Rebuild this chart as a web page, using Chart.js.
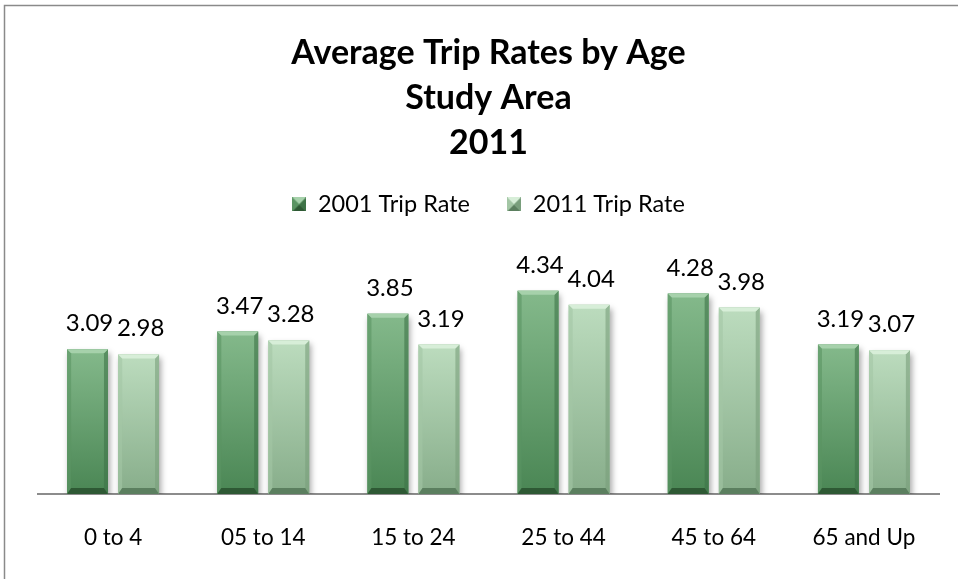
<!DOCTYPE html>
<html>
<head>
<meta charset="utf-8">
<script src="https://cdn.jsdelivr.net/npm/chart.js@4/dist/chart.umd.min.js"></script>
<style>
  html, body { margin: 0; padding: 0; background: #ffffff; }
  #wrap { position: relative; width: 958px; height: 579px; }
  canvas { display: block; }
</style>
</head>
<body>
<div id="wrap"><canvas id="c" width="958" height="579"></canvas></div>
<script>
// ---- data ----
const titleLines = ['Average Trip Rates by Age', 'Study Area', '2011'];
const categories = ['0 to 4', '05 to 14', '15 to 24', '25 to 44', '45 to 64', '65 and Up'];
const seriesNames = ['2001 Trip Rate', '2011 Trip Rate'];
const rate2001 = [3.09, 3.47, 3.85, 4.34, 4.28, 3.19];
const rate2011 = [2.98, 3.28, 3.19, 4.04, 3.98, 3.07];
const yMax = 5.72;

// ---- styles ----
const palettes = [
  { main: '#5f9a67', gTop: '#84b98b', gBot: '#4a8654', top: '#a6d1ab', bottom: '#2e5934', left: '#5a9462', right: '#3e7347' },
  { main: '#9fc4a2', gTop: '#bcdcbe', gBot: '#87ad8a', top: '#d7eed8', bottom: '#5b7f5f', left: '#a3c6a5', right: '#799e7c' }
];
const FONT = 'Lato, "Open Sans", "DejaVu Sans", sans-serif';

function bevelIcon(p) {
  const c = document.createElement('canvas');
  c.width = 14; c.height = 14;
  const g = c.getContext('2d');
  const s = 14, m = 7;
  g.fillStyle = p.main; g.fillRect(0, 0, s, s);
  g.fillStyle = p.top; g.beginPath(); g.moveTo(0,0); g.lineTo(s,0); g.lineTo(m,m); g.closePath(); g.fill();
  g.fillStyle = p.bottom; g.beginPath(); g.moveTo(0,s); g.lineTo(s,s); g.lineTo(m,m); g.closePath(); g.fill();
  g.fillStyle = p.left; g.beginPath(); g.moveTo(0,0); g.lineTo(0,s); g.lineTo(m,m); g.closePath(); g.fill();
  g.fillStyle = p.right; g.beginPath(); g.moveTo(s,0); g.lineTo(s,s); g.lineTo(m,m); g.closePath(); g.fill();
  return c;
}
const icons = palettes.map(bevelIcon);

const framePlugin = {
  id: 'frame',
  beforeDraw(chart) {
    const ctx = chart.ctx;
    ctx.save();
    ctx.strokeStyle = '#8a8a8a';
    ctx.lineWidth = 1.5;
    ctx.beginPath();
    ctx.moveTo(4.5, 579);
    ctx.lineTo(4.5, 5.5);
    ctx.lineTo(958, 5.5);
    ctx.stroke();
    ctx.restore();
  }
};

const shadowPlugin = {
  id: 'barShadow',
  beforeDatasetsDraw(chart) {
    const ctx = chart.ctx;
    ctx.save();
    ctx.shadowColor = 'rgba(0,0,0,0.35)';
    ctx.shadowBlur = 6;
    ctx.shadowOffsetX = 2;
    ctx.shadowOffsetY = 4;
  },
  afterDatasetsDraw(chart) {
    chart.ctx.restore();
  }
};

const bevelPlugin = {
  id: 'bevel',
  afterDatasetsDraw(chart) {
    const ctx = chart.ctx;
    chart.data.datasets.forEach((ds, di) => {
      const meta = chart.getDatasetMeta(di);
      const p = palettes[di];
      meta.data.forEach((el, i) => {
        const { x, y, base, width } = el.getProps(['x', 'y', 'base', 'width'], true);
        const x0 = x - width / 2, x1 = x + width / 2;
        const top = Math.min(y, base), bot = Math.max(y, base);
        const bt = 4, bb = 6, bs = 4;
        ctx.save();
        const grad = ctx.createLinearGradient(0, top, 0, bot);
        grad.addColorStop(0, p.gTop);
        grad.addColorStop(1, p.gBot);
        ctx.fillStyle = grad;
        ctx.fillRect(x0, top, width, bot - top);
        ctx.fillStyle = p.left;
        ctx.globalAlpha = 0.6;
        ctx.beginPath(); ctx.moveTo(x0, top); ctx.lineTo(x0 + bs, top + bt); ctx.lineTo(x0 + bs, bot - bb); ctx.lineTo(x0, bot); ctx.closePath(); ctx.fill();
        ctx.fillStyle = p.right;
        ctx.beginPath(); ctx.moveTo(x1, top); ctx.lineTo(x1 - bs, top + bt); ctx.lineTo(x1 - bs, bot - bb); ctx.lineTo(x1, bot); ctx.closePath(); ctx.fill();
        ctx.globalAlpha = 1;
        ctx.fillStyle = p.top;
        ctx.beginPath(); ctx.moveTo(x0, top); ctx.lineTo(x1, top); ctx.lineTo(x1 - bs, top + bt); ctx.lineTo(x0 + bs, top + bt); ctx.closePath(); ctx.fill();
        ctx.fillStyle = p.bottom;
        ctx.beginPath(); ctx.moveTo(x0, bot); ctx.lineTo(x1, bot); ctx.lineTo(x1 - bs, bot - bb); ctx.lineTo(x0 + bs, bot - bb); ctx.closePath(); ctx.fill();
        ctx.restore();
      });
    });
  }
};

const labelPlugin = {
  id: 'valueLabels',
  afterDatasetsDraw(chart) {
    const ctx = chart.ctx;
    ctx.save();
    ctx.font = '24px ' + FONT;
    ctx.fillStyle = '#000000';
    ctx.textAlign = 'center';
    ctx.textBaseline = 'alphabetic';
    chart.data.datasets.forEach((ds, di) => {
      const meta = chart.getDatasetMeta(di);
      meta.data.forEach((el, i) => {
        ctx.fillText(ds.data[i].toFixed(2), el.x + 2, el.y - 18);
      });
    });
    ctx.restore();
  }
};

new Chart(document.getElementById('c'), {
  type: 'bar',
  data: {
    labels: categories,
    datasets: [
      { label: seriesNames[0], data: rate2001, backgroundColor: palettes[0].main, borderWidth: 0 },
      { label: seriesNames[1], data: rate2011, backgroundColor: palettes[1].main, borderWidth: 0 }
    ]
  },
  options: {
    responsive: false,
    animation: false,
    devicePixelRatio: 1,
    categoryPercentage: 0.68,
    barPercentage: 0.80,
    layout: { padding: { left: 38, right: 19, top: 5, bottom: 0 } },
    plugins: {
      title: {
        display: true,
        text: titleLines,
        color: '#000000',
        font: { family: FONT, size: 34, weight: 'bold', lineHeight: 1.32 },
        padding: { top: 26, bottom: -10 }
      },
      legend: {
        display: true,
        position: 'top',
        labels: {
          color: '#000000',
          font: { family: FONT, size: 23.5 },
          usePointStyle: true,
          boxWidth: 14,
          boxHeight: 14,
          padding: 37,
          generateLabels(chart) {
            return chart.data.datasets.map((ds, i) => ({
              text: ds.label,
              fillStyle: palettes[i].main,
              strokeStyle: palettes[i].main,
              lineWidth: 0,
              pointStyle: icons[i],
              hidden: false,
              datasetIndex: i
            }));
          }
        }
      },
      tooltip: { enabled: false }
    },
    scales: {
      x: {
        grid: { display: false, drawTicks: false },
        border: { display: true, color: '#8c8c8c', width: 2 },
        ticks: { color: '#000000', font: { family: FONT, size: 22.5 }, padding: 30 },
        afterFit(scale) { scale.height = 85; }
      },
      y: {
        display: false,
        min: 0,
        max: yMax
      }
    }
  },
  plugins: [framePlugin, shadowPlugin, bevelPlugin, labelPlugin]
});
</script>
</body>
</html>
